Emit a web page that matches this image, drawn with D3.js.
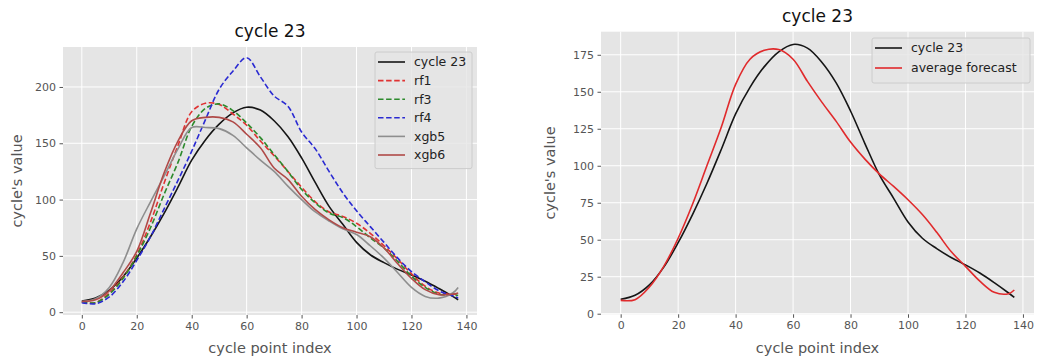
<!DOCTYPE html>
<html>
<head>
<meta charset="utf-8">
<script src="https://cdn.jsdelivr.net/npm/d3@7"></script>
<style>
  body { margin: 0; background: #fff; }
  svg text { font-family: "DejaVu Sans", sans-serif; }
</style>
</head>
<body>
<div id="canvas"></div>
<script>
"use strict";

/* Data: value at each cycle point index */
let pointIndex = [0, 5, 10, 15, 20, 25, 30, 35, 40, 45, 50, 55, 60, 65, 70, 75, 80, 85, 90, 95, 100, 105, 110, 115, 120, 125, 130, 135, 137];

let cycle23 = [9.8, 12.5, 19.5, 31.5, 48, 67, 88, 111, 135, 153, 167, 177, 182, 179.5, 170, 156, 137, 115, 94, 78, 62, 51, 44, 38, 33, 27.5, 21, 14, 11];
let rf1 = [9, 8.5, 17, 31, 51, 80, 115, 148, 178, 185.5, 184.5, 176, 166, 152, 139, 125, 111, 98, 89, 85, 79, 70, 59, 47, 34, 23, 17, 16, 16];
let rf3 = [9, 8.5, 16, 30, 50, 75, 105, 133, 165, 181, 185, 179, 168, 155, 140, 125, 109, 97, 88, 84, 76, 66, 57, 45, 32, 22, 16, 15, 15];
let rf4 = [8.5, 7.5, 13.5, 27, 46, 67, 92, 117, 143, 171, 198, 214, 226, 209, 192, 183, 160, 145, 125, 106, 90, 76, 62, 48, 36, 27, 19, 14.5, 12.7];
let xgb5 = [9.5, 12, 22, 44, 74, 98, 121, 145, 164, 164, 163, 157, 146, 135, 125, 112, 100, 89, 81, 74, 69, 59, 48, 35, 22, 14, 12.5, 17, 22];
let xgb6 = [9.5, 11, 19, 35, 54, 88, 124, 152, 170, 173, 173, 169, 158, 146, 128, 118, 103, 91, 82, 75, 71, 67, 57, 43, 30, 20, 15.5, 16, 17];
let averageForecast = [9, 9.5, 18, 32, 51, 74, 100, 126, 155, 172, 178, 178.5, 172, 157, 143, 130, 116, 104.5, 94.5, 86, 77, 67, 55, 42, 32, 22, 14.5, 13.5, 16];

/* Tick labels */
let xTicks = [0, 20, 40, 60, 80, 100, 120, 140];
let leftYTicks = [0, 50, 100, 150, 200];
let rightYTicks = [0, 25, 50, 75, 100, 125, 150, 175];

/* Series per panel */
let leftSeries = [
  { name: "cycle 23", values: cycle23, color: "#151515", dash: null },
  { name: "rf1", values: rf1, color: "#e03232", dash: "5.5,2.6" },
  { name: "rf3", values: rf3, color: "#2c8a2c", dash: "5.5,2.6" },
  { name: "rf4", values: rf4, color: "#2a2ad2", dash: "5.5,2.6" },
  { name: "xgb5", values: xgb5, color: "#8e8e8e", dash: null },
  { name: "xgb6", values: xgb6, color: "#b04a48", dash: null }
];
let rightSeries = [
  { name: "cycle 23", values: cycle23, color: "#151515", dash: null },
  { name: "average forecast", values: averageForecast, color: "#e02a2c", dash: null }
];

/* Canvas */
let svgWidth = 1038;
let svgHeight = 360;
let svg = d3.select("#canvas")
  .append("svg")
  .attr("width", svgWidth)
  .attr("height", svgHeight);

function drawPanel(p) {
  let xScale = d3.scaleLinear().domain([-6.85, 143.85]).range([p.left, p.right]);
  let yScale = d3.scaleLinear().domain(p.yDomain).range([p.bottom, p.top]);

  // plot background
  svg.append("rect")
    .attr("x", p.left)
    .attr("y", p.top)
    .attr("width", p.right - p.left)
    .attr("height", p.bottom - p.top)
    .attr("fill", "#e5e5e5");

  // grid
  svg.append("g").selectAll("line")
    .data(xTicks)
    .join("line")
    .attr("x1", d => xScale(d)).attr("x2", d => xScale(d))
    .attr("y1", p.top).attr("y2", p.bottom)
    .attr("stroke", "#fff").attr("stroke-width", 1);
  svg.append("g").selectAll("line")
    .data(p.yTicks)
    .join("line")
    .attr("x1", p.left).attr("x2", p.right)
    .attr("y1", d => yScale(d)).attr("y2", d => yScale(d))
    .attr("stroke", "#fff").attr("stroke-width", 1);

  // axes
  let xAxis = svg.append("g")
    .attr("transform", `translate(0,${p.bottom})`)
    .call(d3.axisBottom(xScale).tickValues(xTicks).tickSize(3.5).tickPadding(3.5));
  let yAxis = svg.append("g")
    .attr("transform", `translate(${p.left},0)`)
    .call(d3.axisLeft(yScale).tickValues(p.yTicks).tickSize(3.5).tickPadding(3.5));
  [xAxis, yAxis].forEach(a => {
    a.select(".domain").remove();
    a.selectAll(".tick line").attr("stroke", "#555");
    a.selectAll(".tick text")
      .attr("fill", "#555")
      .style("font-size", "11px")
      .style("font-family", "DejaVu Sans");
  });

  // series lines
  let line = d3.line()
    .x((d, i) => xScale(pointIndex[i]))
    .y(d => yScale(d))
    .curve(d3.curveCatmullRom.alpha(0.5));

  p.series.forEach(s => {
    svg.append("path")
      .datum(s.values)
      .attr("fill", "none")
      .attr("stroke", s.color)
      .attr("stroke-width", 1.6)
      .attr("stroke-dasharray", s.dash)
      .attr("d", line);
  });

  // title and axis labels
  svg.append("text")
    .attr("x", (p.left + p.right) / 2)
    .attr("y", p.top - 10)
    .attr("text-anchor", "middle")
    .style("font-size", "17px")
    .attr("fill", "#111")
    .text("cycle 23");

  svg.append("text")
    .attr("x", (p.left + p.right) / 2)
    .attr("y", 353)
    .attr("text-anchor", "middle")
    .style("font-size", "14.5px")
    .attr("fill", "#555")
    .text("cycle point index");

  svg.append("text")
    .attr("transform", `translate(${p.yLabelX},${(p.top + p.bottom) / 2}) rotate(-90)`)
    .attr("text-anchor", "middle")
    .style("font-size", "14.5px")
    .attr("fill", "#555")
    .text("cycle's value");

  // legend
  let lg = p.legend;
  svg.append("rect")
    .attr("x", lg.x)
    .attr("y", lg.y)
    .attr("width", lg.width)
    .attr("height", lg.rowGap * p.series.length + 5)
    .attr("rx", 2)
    .attr("fill", "#e5e5e5")
    .attr("fill-opacity", 0.8)
    .attr("stroke", "#cccccc")
    .attr("stroke-width", 1);

  p.series.forEach((s, i) => {
    let ly = lg.y + 10 + i * lg.rowGap;
    svg.append("line")
      .attr("x1", lg.x + 3).attr("x2", lg.x + 30)
      .attr("y1", ly).attr("y2", ly)
      .attr("stroke", s.color)
      .attr("stroke-width", 1.6)
      .attr("stroke-dasharray", s.dash);
    svg.append("text")
      .attr("x", lg.x + 39)
      .attr("y", ly)
      .attr("dy", "0.35em")
      .style("font-size", "12.5px")
      .attr("fill", "#222")
      .text(s.name);
  });
}

drawPanel({
  left: 63, right: 477, top: 47, bottom: 315,
  yDomain: [-2.5, 235.5],
  yTicks: leftYTicks,
  series: leftSeries,
  yLabelX: 22,
  legend: { x: 375, y: 52, width: 97, rowGap: 18.6 }
});

drawPanel({
  left: 601, right: 1034, top: 31.7, bottom: 314.3,
  yDomain: [-0.4, 190.6],
  yTicks: rightYTicks,
  series: rightSeries,
  yLabelX: 555,
  legend: { x: 872, y: 38, width: 158, rowGap: 20 }
});
</script>
</body>
</html>
